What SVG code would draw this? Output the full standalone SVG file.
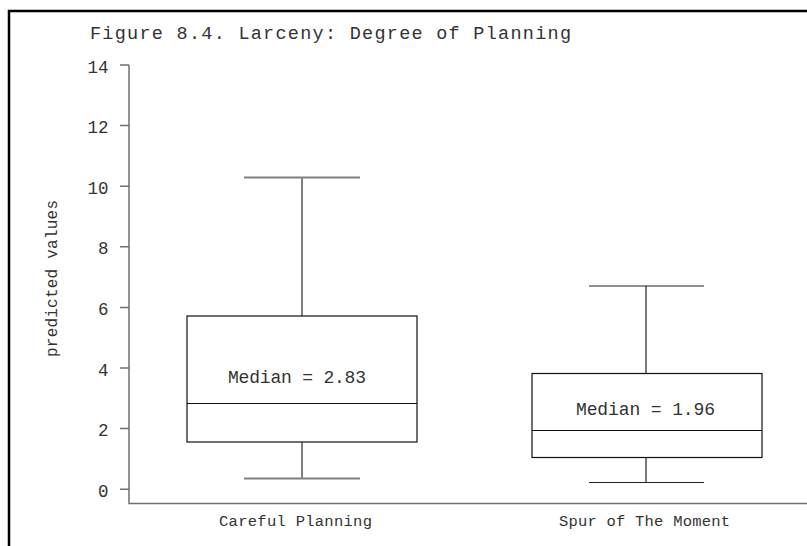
<svg xmlns="http://www.w3.org/2000/svg" width="807" height="546" viewBox="0 0 807 546">
<style>
text{font-family:"Liberation Mono","DejaVu Sans Mono",monospace;fill:#333}
.tick{font-size:17.5px;text-anchor:end}
.axis{stroke:#707070;stroke-width:1.5;fill:none}
.box{stroke:#111;stroke-width:1.2;fill:none}
.wg{stroke:#808080;stroke-width:2;fill:none}
.wb{stroke:#222;stroke-width:1.2;fill:none}
</style>
<rect width="807" height="546" fill="#fff"/>
<path d="M9 546V11H807" stroke="#000" stroke-width="2.5" fill="none"/>
<text x="90" y="38.5" font-size="18.5" textLength="481" lengthAdjust="spacing">Figure 8.4. Larceny: Degree of Planning</text>
<g id="axes">
<path class="axis" d="M129 65V503.5H807"/>
<path class="axis" d="M120 65H129M120 125.6H129M120 186.2H129M120 246.8H129M120 307.4H129M120 368H129M120 428.6H129M120 489.2H129"/>
<text class="tick" x="108.5" y="72.5">14</text>
<text class="tick" x="108.5" y="133">12</text>
<text class="tick" x="108.5" y="193.7">10</text>
<text class="tick" x="108.5" y="254.3">8</text>
<text class="tick" x="108.5" y="314.9">6</text>
<text class="tick" x="108.5" y="375.5">4</text>
<text class="tick" x="108.5" y="436.1">2</text>
<text class="tick" x="108.5" y="496.7">0</text>
<text x="0" y="0" font-size="16" textLength="157" lengthAdjust="spacing" transform="translate(57,357) rotate(-90)">predicted values</text>
<text x="219" y="526" font-size="15.5" textLength="153" lengthAdjust="spacing">Careful Planning</text>
<text x="559" y="526" font-size="15.5" textLength="171" lengthAdjust="spacing">Spur of The Moment</text>
</g>
<g id="box-careful">
<path class="wg" d="M244 177.5H360M302 177.5V316M302 442V478.5M244 478.5H360"/>
<rect class="box" x="187" y="316" width="230" height="126"/>
<path class="box" d="M187 403.5H417"/>
<text x="228" y="383" font-size="18" textLength="138" lengthAdjust="spacing">Median = 2.83</text>
</g>
<g id="box-spur">
<path class="wb" d="M589 286H704M646 286V373.5M646 457.5V482.5M589 482.5H704"/>
<rect class="box" x="532" y="373.5" width="230" height="84"/>
<path class="box" d="M532 430.5H762"/>
<text x="576" y="415" font-size="18" textLength="139" lengthAdjust="spacing">Median = 1.96</text>
</g>
</svg>
